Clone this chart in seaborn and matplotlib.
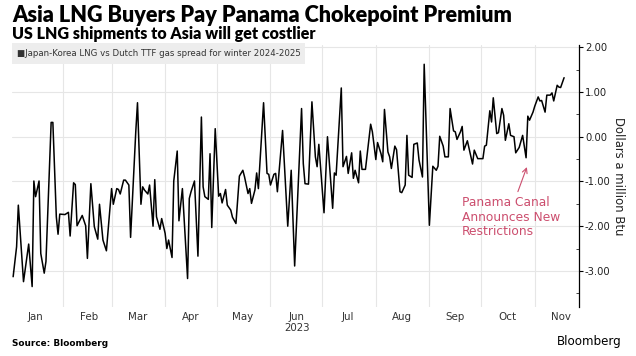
import matplotlib
matplotlib.use("Agg")
import matplotlib.pyplot as plt
import matplotlib.dates as mdates
from matplotlib.ticker import FixedLocator, FuncFormatter, MultipleLocator
from matplotlib.patches import Rectangle
import pandas as pd
import seaborn as sns

# Japan-Korea LNG vs Dutch TTF spread, winter 2024-2025 ($/MMBtu)
dates = [
    "2023-01-03", "2023-01-05", "2023-01-06", "2023-01-09", "2023-01-12", "2023-01-14",
    "2023-01-15", "2023-01-16", "2023-01-18", "2023-01-19", "2023-01-21", "2023-01-22",
    "2023-01-25", "2023-01-26", "2023-01-28", "2023-01-29", "2023-01-30", "2023-02-02",
    "2023-02-04", "2023-02-05", "2023-02-07", "2023-02-08", "2023-02-09", "2023-02-12",
    "2023-02-14", "2023-02-15", "2023-02-17", "2023-02-19", "2023-02-21", "2023-02-22",
    "2023-02-24", "2023-02-26", "2023-03-01", "2023-03-02", "2023-03-04", "2023-03-05",
    "2023-03-06", "2023-03-08", "2023-03-09", "2023-03-11", "2023-03-12", "2023-03-15",
    "2023-03-16", "2023-03-18", "2023-03-19", "2023-03-20", "2023-03-22", "2023-03-23",
    "2023-03-25", "2023-03-26", "2023-03-27", "2023-03-29", "2023-03-30", "2023-04-01",
    "2023-04-02", "2023-04-03", "2023-04-05", "2023-04-06", "2023-04-08", "2023-04-09",
    "2023-04-11", "2023-04-14", "2023-04-15", "2023-04-16", "2023-04-18", "2023-04-20",
    "2023-04-22", "2023-04-23", "2023-04-24", "2023-04-26", "2023-04-27", "2023-04-28",
    "2023-04-30", "2023-05-02", "2023-05-03", "2023-05-04", "2023-05-06", "2023-05-07",
    "2023-05-09", "2023-05-10", "2023-05-12", "2023-05-14", "2023-05-16", "2023-05-17",
    "2023-05-19", "2023-05-20", "2023-05-21", "2023-05-23", "2023-05-24", "2023-05-25",
    "2023-05-28", "2023-05-30", "2023-05-31", "2023-06-01", "2023-06-03", "2023-06-04",
    "2023-06-05", "2023-06-08", "2023-06-11", "2023-06-13", "2023-06-15", "2023-06-19",
    "2023-06-20", "2023-06-21", "2023-06-23", "2023-06-25", "2023-06-27", "2023-06-28",
    "2023-06-29", "2023-07-02", "2023-07-04", "2023-07-07", "2023-07-08", "2023-07-09",
    "2023-07-12", "2023-07-13", "2023-07-15", "2023-07-16", "2023-07-18", "2023-07-19",
    "2023-07-20", "2023-07-22", "2023-07-23", "2023-07-24", "2023-07-26", "2023-07-29",
    "2023-07-30", "2023-08-01", "2023-08-02", "2023-08-04", "2023-08-05", "2023-08-06",
    "2023-08-08", "2023-08-09", "2023-08-10", "2023-08-12", "2023-08-13", "2023-08-15",
    "2023-08-16", "2023-08-18", "2023-08-19", "2023-08-20", "2023-08-22", "2023-08-23",
    "2023-08-25", "2023-08-26", "2023-08-28", "2023-08-29", "2023-09-01", "2023-09-03",
    "2023-09-05", "2023-09-06", "2023-09-07", "2023-09-09", "2023-09-10", "2023-09-12",
    "2023-09-13", "2023-09-15", "2023-09-16", "2023-09-17", "2023-09-19", "2023-09-20",
    "2023-09-21", "2023-09-23", "2023-09-24", "2023-09-26", "2023-09-27", "2023-09-29",
    "2023-09-30", "2023-10-02", "2023-10-03", "2023-10-04", "2023-10-06", "2023-10-07",
    "2023-10-08", "2023-10-10", "2023-10-11", "2023-10-13", "2023-10-14", "2023-10-15",
    "2023-10-17", "2023-10-18", "2023-10-20", "2023-10-21", "2023-10-23", "2023-10-25",
    "2023-10-27", "2023-10-28", "2023-10-29", "2023-10-31", "2023-11-01", "2023-11-03",
    "2023-11-04", "2023-11-05", "2023-11-07", "2023-11-08", "2023-11-10", "2023-11-11",
    "2023-11-12", "2023-11-14", "2023-11-15", "2023-11-16", "2023-11-18",
]
spread = [
    -3.13, -2.46, -1.53, -3.24, -2.40, -3.35,
    -0.99, -1.34, -0.99, -2.61, -3.05, -2.79,
    0.32, 0.32, -1.79, -2.18, -1.73, -1.74,
    -1.69, -2.22, -1.03, -1.07, -1.99, -1.76,
    -1.99, -2.72, -1.05, -2.01, -2.29, -1.51,
    -2.31, -2.55, -1.16, -1.51, -1.16, -1.18,
    -1.28, -0.97, -0.97, -1.08, -2.25, 0.11,
    0.76, -1.51, -1.12, -1.19, -1.28, -1.08,
    -2.00, -0.96, -1.79, -2.07, -1.83, -2.16,
    -2.50, -2.31, -2.70, -0.99, -0.32, -1.88,
    -1.16, -3.17, -1.38, -1.23, -0.99, -2.67,
    0.44, -1.12, -1.34, -1.40, -0.38, -2.03,
    0.18, -1.33, -1.27, -1.48, -1.18, -1.53,
    -1.64, -1.80, -1.94, -0.88, -0.75, -0.90,
    -1.27, -1.16, -1.49, -1.19, -0.81, -1.16,
    0.76, -0.82, -0.84, -1.08, -0.84, -0.82,
    -1.23, 0.14, -2.00, -0.75, -2.89, 0.63,
    -0.60, -1.05, -1.06, 0.78, -0.45, -0.67,
    -0.17, -1.70, 0.00, -1.60, -0.81, -0.86,
    1.09, -0.67, -0.44, -0.82, -0.36, -0.93,
    -0.75, -1.03, -0.32, -0.73, -0.73, 0.28,
    0.11, -0.51, -0.13, -0.38, -0.56, 0.61,
    -0.34, -0.45, -0.71, -0.21, -0.29, -1.23,
    -1.25, -1.08, 0.03, -0.86, -0.91, -0.17,
    -0.14, -0.52, -0.90, 1.62, -1.98, -0.66,
    -0.75, -0.66, 0.01, -0.21, -0.45, -0.45,
    0.63, 0.13, 0.11, -0.06, 0.11, 0.23,
    -0.30, -0.09, -0.26, -0.61, -0.30, -0.49,
    -0.49, -0.49, -0.21, -0.19, 0.58, 0.33,
    0.87, 0.07, 0.09, 0.63, 0.48, -0.08,
    0.29, 0.03, 0.00, -0.36, -0.24, 0.03,
    -0.47, 0.46, 0.37, 0.55, 0.68, 0.89,
    0.80, 0.81, 0.55, 0.93, 0.93, 0.98,
    0.80, 1.15, 1.11, 1.10, 1.32,
]
y_ticks = [-3, -2, -1, 0, 1, 2]
title = "Asia LNG Buyers Pay Panama Chokepoint Premium"
subtitle = "US LNG shipments to Asia will get costlier"
legend_label = "Japan-Korea LNG vs Dutch TTF gas spread for winter 2024-2025"
note = "Panama Canal\nAnnounces New\nRestrictions"

df = pd.DataFrame({"date": pd.to_datetime(dates), "spread": spread})

sns.set_style("white")
plt.rcParams["font.family"] = ["DejaVu Sans"]

fig = plt.figure(figsize=(6.36, 3.56), dpi=100)
ax = fig.add_axes([0.0184, 0.1385, 0.8916, 0.735])

sns.lineplot(data=df, x="date", y="spread", color="black", linewidth=1.1, ax=ax)

ax.set_xlim(pd.Timestamp("2023-01-02 04:00"), pd.Timestamp("2023-11-26 12:00"))
ax.set_ylim(-3.8, 2.05)

# y axis on the right
ax.yaxis.tick_right()
ax.yaxis.set_label_position("right")
ax.yaxis.set_major_locator(FixedLocator(y_ticks))
ax.yaxis.set_minor_locator(MultipleLocator(0.5))
ax.yaxis.set_major_formatter(FuncFormatter(lambda v, p: f"{v:.2f}"))
ax.tick_params(axis="y", which="major", direction="out", length=3, width=0.8,
               labelsize=7.2, pad=1.5, colors="black", labelcolor="#222222")
ax.tick_params(axis="y", which="minor", direction="in", length=2.5, width=0.6)
ax.set_ylabel("Dollars a million Btu", rotation=270, labelpad=10, fontsize=8.4,
              color="#222222")

# months: labels mid-month, grid at month starts
ax.xaxis.set_major_locator(mdates.MonthLocator(bymonthday=16))
ax.xaxis.set_major_formatter(mdates.DateFormatter("%b"))
ax.xaxis.set_minor_locator(mdates.MonthLocator(bymonthday=1))
ax.tick_params(axis="x", which="both", length=0, labelsize=7.4, pad=3.5,
               labelcolor="#333333")
ax.set_xlabel("")
ax.grid(False)
ax.grid(axis="x", which="minor", color="#e6e6e6", linewidth=0.8)
ax.grid(axis="y", which="major", color="#e6e6e6", linewidth=0.8)

for side in ["top", "left", "bottom"]:
    ax.spines[side].set_visible(False)
ax.spines["right"].set_color("black")
ax.spines["right"].set_linewidth(0.9)

# year label under June
fig.text(297 / 636, 1 - 328 / 356, "2023", ha="center", va="center",
         fontsize=7.4, color="#333333")

# legend box
fig.patches.append(Rectangle((11.7 / 636, 1 - 63.5 / 356), (305 - 11.7) / 636, 20 / 356,
                             transform=fig.transFigure, facecolor="#ededed",
                             edgecolor="none", zorder=0))
fig.text(17 / 636, 1 - 53.5 / 356, "\u25a0" + legend_label, ha="left", va="center",
         fontsize=6.2, color="#333333")

# annotation
ax.annotate(note, xy=(pd.Timestamp("2023-10-28"), -0.62),
            xytext=(pd.Timestamp("2023-09-20"), -1.33),
            ha="left", va="top", fontsize=8.8, color="#cc4e6e", linespacing=1.15,
            arrowprops=dict(arrowstyle="->", color="#cc4e6e", lw=0.8,
                            shrinkA=1, shrinkB=2, relpos=(0.55, 1.0)))

# titles and footer
fig.text(12 / 636, 1 - 16 / 356, title, ha="left", va="center", fontsize=15.6,
         fontweight="heavy", color="black", family=["Lato", "DejaVu Sans"])
fig.text(12 / 636, 1 - 34 / 356, subtitle, ha="left", va="center", fontsize=11.5,
         fontweight="heavy", color="black", family=["Lato", "DejaVu Sans"])
fig.text(12 / 636, 1 - 343 / 356, "Source: Bloomberg", ha="left", va="center",
         fontsize=6.4, fontweight="bold", color="black")
fig.text(622 / 636, 1 - 342 / 356, "Bloomberg", ha="right", va="center",
         fontsize=8.6, color="black")

fig.savefig("out.png", dpi=100)
